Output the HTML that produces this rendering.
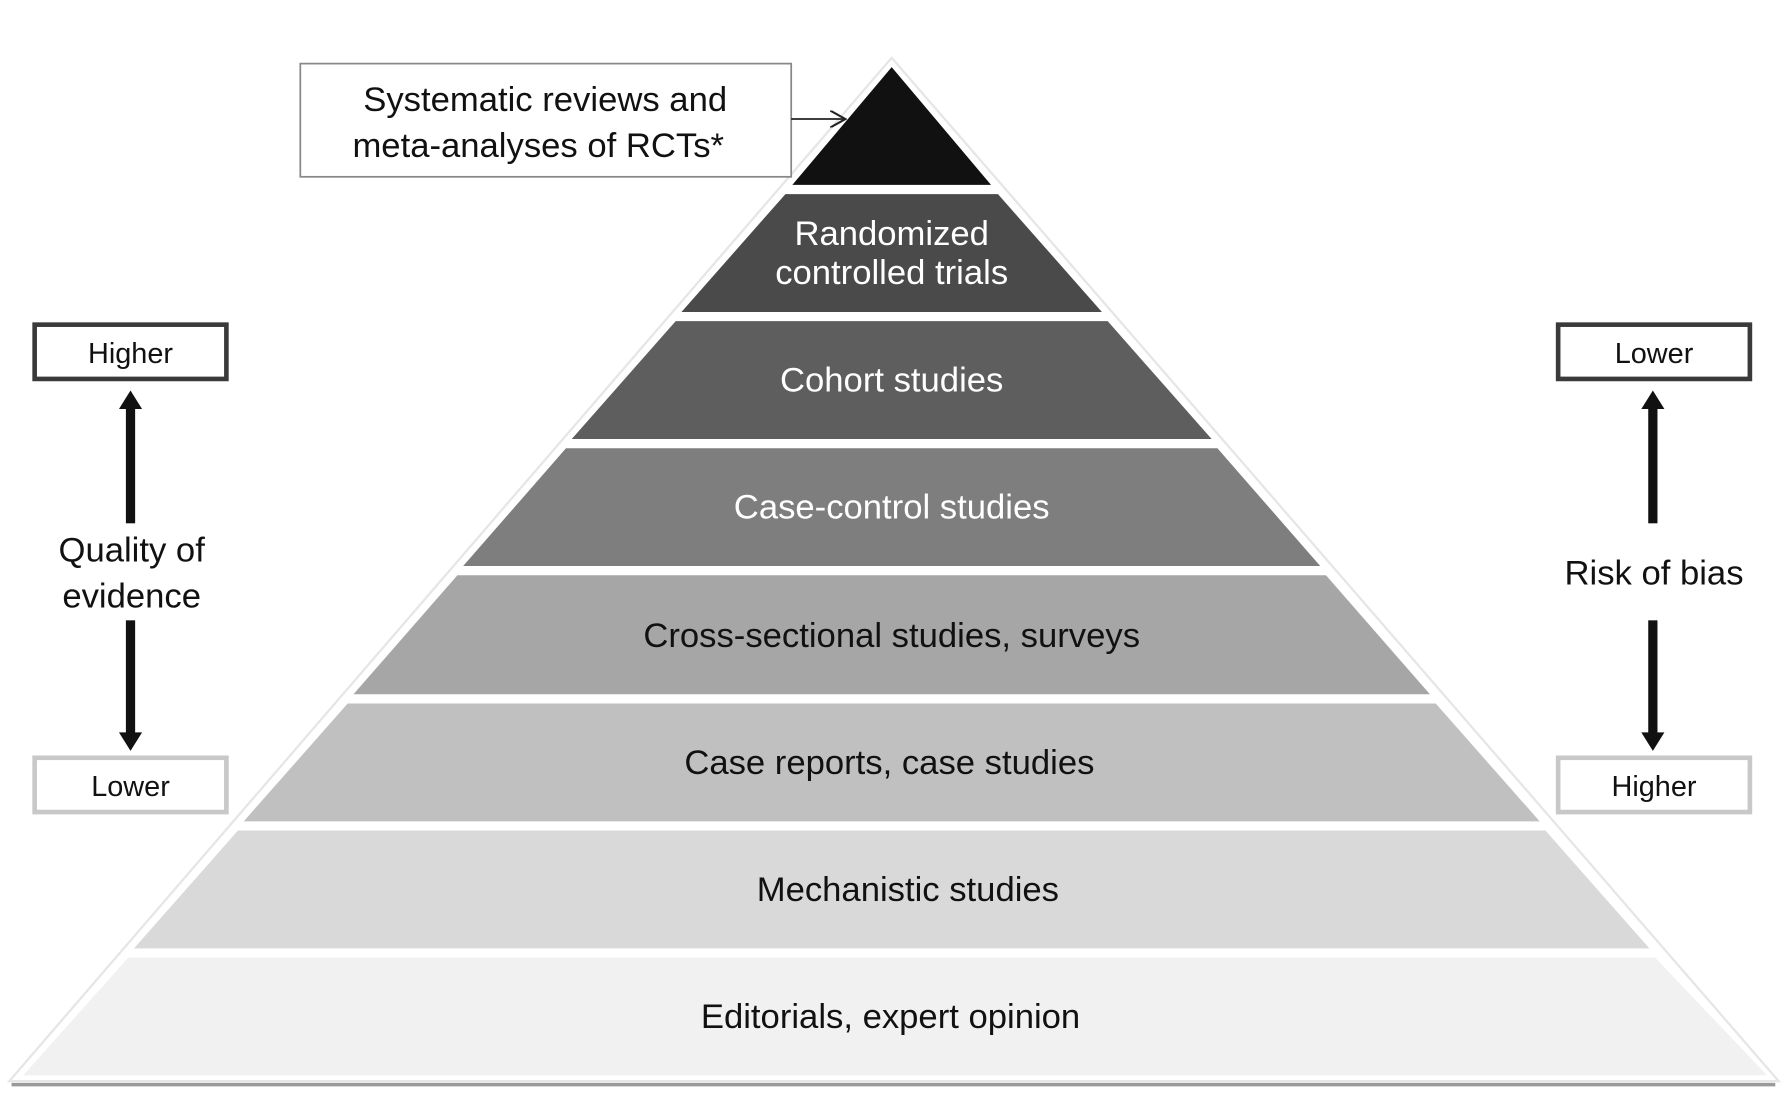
<!DOCTYPE html>
<html><head><meta charset="utf-8"><style>html,body{margin:0;padding:0;background:#fff}svg{display:block}</style></head>
<body>
<svg width="1788" height="1109" viewBox="0 0 1548 960" xmlns="http://www.w3.org/2000/svg" font-family="Liberation Sans, Arial, sans-serif">
<defs>
<marker id="ah" markerWidth="10" markerHeight="10" refX="9" refY="5" orient="auto"><path d="M0,0 L9,5 L0,10" fill="none" stroke="#222" stroke-width="1.2"/></marker>
</defs>
<rect width="1548" height="960" fill="#fff"/>
<!-- outline & shadow -->
<polygon points="772,50 1540,936 8,936" fill="#fff" stroke="#e6e6e6" stroke-width="2"/>
<line x1="10" y1="939" x2="1537" y2="939" stroke="#9a9a9a" stroke-width="3"/>
<!-- bands -->
<polygon points="772,58 858,160 686,160" fill="#111"/>
<polygon points="680,168 864,168 954,270 590,270" fill="#4a4a4a"/>
<polygon points="585,278 959,278 1049,380 495,380" fill="#5e5e5e"/>
<polygon points="490,388 1054,388 1143,490 401,490" fill="#7e7e7e"/>
<polygon points="396,498 1148,498 1238,601 306,601" fill="#a6a6a6"/>
<polygon points="301,609 1243,609 1333,711 211,711" fill="#c0c0c0"/>
<polygon points="206,719 1338,719 1428,821 116,821" fill="#d9d9d9"/>
<polygon points="111,829 1433,829 1530,931 20,931" fill="#f1f1f1"/>
<g font-size="30" text-anchor="middle">
<text x="772" y="212" fill="#fff">Randomized</text>
<text x="772" y="246" fill="#fff">controlled trials</text>
<text x="772" y="339" fill="#fff">Cohort studies</text>
<text x="772" y="449" fill="#fff">Case-control studies</text>
<text x="772" y="560" fill="#111">Cross-sectional studies, surveys</text>
<text x="770" y="670" fill="#111">Case reports, case studies</text>
<text x="786" y="780" fill="#111">Mechanistic studies</text>
<text x="771" y="890" fill="#111">Editorials, expert opinion</text>
</g>
<!-- systematic box -->
<rect x="260" y="55" width="425" height="98" fill="#fff" stroke="#888" stroke-width="1.5"/>
<g font-size="30" text-anchor="middle" fill="#111">
<text x="472" y="96">Systematic reviews and</text>
<text x="466" y="136">meta-analyses of RCTs*</text>
</g>
<line x1="685" y1="103" x2="732" y2="103" stroke="#222" stroke-width="1.5" marker-end="url(#ah)"/>
<!-- left -->
<rect x="30" y="281" width="166" height="47" fill="#fff" stroke="#3a3a3a" stroke-width="4"/>
<rect x="30" y="656" width="166" height="47" fill="#fff" stroke="#c8c8c8" stroke-width="4"/>
<g font-size="25" text-anchor="middle" fill="#111">
<text x="113" y="314">Higher</text>
<text x="113" y="689">Lower</text>
<text x="1432" y="314">Lower</text>
<text x="1432" y="689">Higher</text>
</g>
<g font-size="30" text-anchor="middle" fill="#111">
<text x="114" y="486">Quality of</text>
<text x="114" y="526">evidence</text>
<text x="1432" y="506">Risk of bias</text>
</g>
<g fill="#111">
<rect x="109" y="350" width="8" height="103"/><polygon points="113,338 103,354 123,354"/>
<rect x="109" y="537" width="8" height="99"/><polygon points="113,650 103,634 123,634"/>
<rect x="1427" y="350" width="8" height="103"/><polygon points="1431,338 1421,354 1441,354"/>
<rect x="1427" y="537" width="8" height="99"/><polygon points="1431,650 1421,634 1441,634"/>
</g>
<rect x="1349" y="281" width="166" height="47" fill="#fff" stroke="#3a3a3a" stroke-width="4"/>
<rect x="1349" y="656" width="166" height="47" fill="#fff" stroke="#c8c8c8" stroke-width="4"/>
<g font-size="25" text-anchor="middle" fill="#111">
<text x="1432" y="314">Lower</text>
<text x="1432" y="689">Higher</text>
</g>
</svg>
</body></html>
